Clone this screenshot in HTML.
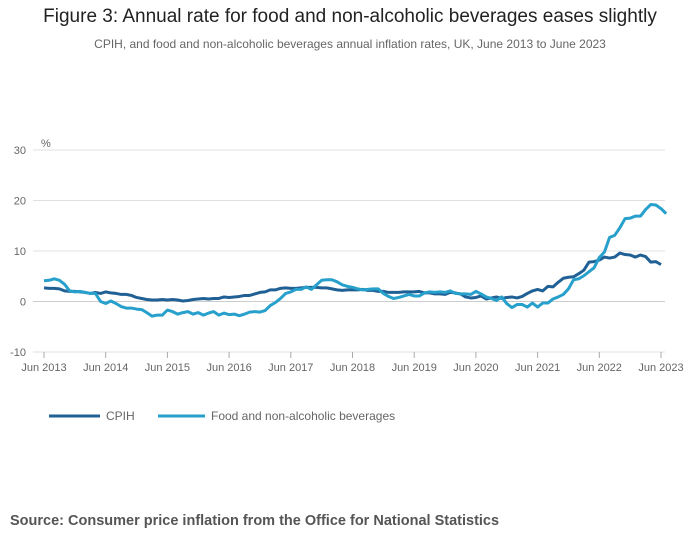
<!DOCTYPE html>
<html><head><meta charset="utf-8">
<style>
body{margin:0;width:700px;height:549px;background:#fff;font-family:"Liberation Sans",sans-serif;overflow:hidden}
#title{position:absolute;top:6px;left:0;width:700px;text-align:center;font-size:19px;color:#222}
#sub{position:absolute;top:37px;left:0;width:700px;text-align:center;font-size:12px;color:#666}
#src{position:absolute;top:513px;left:10px;font-size:14.5px;font-weight:bold;color:#555}
svg{position:absolute;left:0;top:0}
</style></head><body>
<div id="title">Figure 3: Annual rate for food and non-alcoholic beverages eases slightly</div>
<div id="sub">CPIH, and food and non-alcoholic beverages annual inflation rates, UK, June 2013 to June 2023</div>
<svg id="chart" width="700" height="549"></svg>
<div id="src">Source: Consumer price inflation from the Office for National Statistics</div>
<script>
const xLabels=["Jun 2013","Jun 2014","Jun 2015","Jun 2016","Jun 2017","Jun 2018","Jun 2019","Jun 2020","Jun 2021","Jun 2022","Jun 2023"];
const yTicks=[-10,0,10,20,30];
const cpih=[2.7,2.6,2.6,2.5,2.1,2.0,2.0,
1.9,1.8,1.6,1.8,1.6,1.9,1.7,1.6,1.4,1.4,1.2,0.8,
0.6,0.4,0.3,0.3,0.4,0.3,0.4,0.3,0.1,0.2,0.4,0.5,
0.6,0.5,0.6,0.6,0.9,0.8,0.9,1.0,1.2,1.2,1.5,1.8,
1.9,2.3,2.3,2.6,2.7,2.6,2.6,2.7,2.8,2.8,2.8,2.7,
2.7,2.5,2.3,2.2,2.3,2.3,2.3,2.4,2.2,2.2,2.0,2.0,
1.8,1.8,1.8,1.9,1.9,1.9,2.0,1.7,1.7,1.5,1.5,1.4,
1.8,1.7,1.5,0.9,0.7,0.8,1.1,0.5,0.7,0.9,0.6,0.8,
0.9,0.7,1.0,1.6,2.1,2.4,2.1,3.0,2.9,3.8,4.6,4.8,
4.9,5.5,6.2,7.8,7.9,8.2,8.8,8.6,8.8,9.6,9.3,9.2,
8.8,9.2,8.9,7.8,7.9,7.3];
const food=[4.1,4.2,4.5,4.2,3.4,2.1,1.9,
2.0,1.8,1.6,1.6,0.0,-0.4,0.1,-0.4,-1.0,-1.3,-1.3,-1.5,
-1.6,-2.2,-2.9,-2.7,-2.7,-1.7,-2.0,-2.5,-2.2,-2.0,-2.5,-2.2,
-2.7,-2.3,-2.0,-2.7,-2.3,-2.6,-2.5,-2.8,-2.5,-2.1,-2.0,-2.1,
-1.8,-0.8,-0.2,0.6,1.6,1.9,2.4,2.4,2.9,2.4,3.3,4.2,
4.3,4.3,3.9,3.3,3.0,2.8,2.5,2.3,2.4,2.5,2.5,1.6,
1.0,0.6,0.8,1.1,1.4,1.1,1.1,1.7,1.9,1.8,1.9,1.8,
2.1,1.6,1.5,1.5,1.4,2.0,1.5,0.9,0.6,0.2,0.9,-0.4,
-1.2,-0.6,-0.6,-1.1,-0.3,-1.1,-0.3,-0.3,0.5,0.9,1.4,2.5,
4.3,4.5,5.1,5.9,6.7,8.7,9.8,12.7,13.1,14.6,16.4,16.5,
16.9,16.9,18.2,19.2,19.1,18.4,17.4];
const svg=document.getElementById('chart');const NS='http://www.w3.org/2000/svg';
const x0=44,x1=661,yBase=301.5,yPer=5.05;
const X=i=>x0+(x1-x0)*i/120;const Y=v=>yBase-v*yPer;
function mk(t,a){const e=document.createElementNS(NS,t);for(const k in a)e.setAttribute(k,a[k]);svg.appendChild(e);return e;}
yTicks.forEach(v=>{
 const g=mk('line',{x1:33,x2:665,y1:Y(v),y2:Y(v),stroke:v===0?'#ccc':'#e0e0e0','stroke-width':1});
 
 
 const t=mk('text',{x:26,y:Y(v)+4,'text-anchor':'end','font-size':11,fill:'#666','font-family':'Liberation Sans, sans-serif'});t.textContent=v;
 
 
});
const pc=mk('text',{x:41,y:147,'font-size':11,fill:'#666'});pc.textContent='%';


xLabels.forEach((l,k)=>{
 const xx=X(k*12);
 const tk=mk('line',{x1:xx,x2:xx,y1:352,y2:358,stroke:'#aaa'});
 
 
 const t=mk('text',{x:xx,y:371,'text-anchor':'middle','font-size':11,fill:'#666'});t.textContent=l;
 
 
});
function line(arr,col,name){
 const p=mk('polyline',{points:arr.map((v,i)=>X(i)+','+Y(v)).join(' '),fill:'none',stroke:col,'stroke-width':3,'stroke-linejoin':'round'});
 
 
}
line(cpih,'#206095','cpih-line');
line(food,'#27a0cc','food-line');
const l1=mk('line',{x1:49,x2:100,y1:416,y2:416,stroke:'#206095','stroke-width':3});


const t1=mk('text',{x:106,y:420,'font-size':12,fill:'#666'});t1.textContent='CPIH';


const l2=mk('line',{x1:158,x2:205,y1:416,y2:416,stroke:'#27a0cc','stroke-width':3});


const t2=mk('text',{x:211,y:420,'font-size':12,fill:'#666'});t2.textContent='Food and non-alcoholic beverages';


</script>
</body></html>
